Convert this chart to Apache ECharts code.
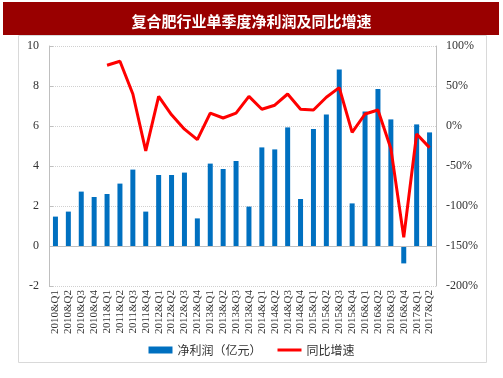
<!DOCTYPE html>
<html>
<head>
<meta charset="utf-8">
<script src="https://cdn.jsdelivr.net/npm/echarts@6/dist/echarts.min.js"></script>
<style>
  html, body { margin: 0; padding: 0; background: #fff; }
  #chart { width: 503px; height: 378px; }
</style>
</head>
<body>
<div id="chart"></div>
<script>
// quarters 2010Q1 - 2017Q2
const quarters = [
  '2010&Q1', '2010&Q2', '2010&Q3', '2010&Q4',
  '2011&Q1', '2011&Q2', '2011&Q3', '2011&Q4',
  '2012&Q1', '2012&Q2', '2012&Q3', '2012&Q4',
  '2013&Q1', '2013&Q2', '2013&Q3', '2013&Q4',
  '2014&Q1', '2014&Q2', '2014&Q3', '2014&Q4',
  '2015&Q1', '2015&Q2', '2015&Q3', '2015&Q4',
  '2016&Q1', '2016&Q2', '2016&Q3', '2016&Q4',
  '2017&Q1', '2017&Q2'
];
// 净利润 (亿元)
const profit = [
  1.47, 1.72, 2.72, 2.45, 2.6, 3.12, 3.82, 1.72, 3.55, 3.55,
  3.67, 1.38, 4.12, 3.85, 4.25, 1.97, 4.93, 4.83, 5.93, 2.35,
  5.85, 6.58, 8.83, 2.13, 6.73, 7.85, 6.33, -0.87, 6.08, 5.68
];
// 同比增速 (%)
const growth = [
  null, null, null, null, 76, 81, 40, -31, 37, 14,
  -4, -17, 16, 10, 16, 37, 21, 26, 40, 21,
  20, 36, 48, -8, 15, 20, -28, -139, -10, -27
];

const chart = echarts.init(document.getElementById('chart'));
const serif = '"Liberation Serif", "Times New Roman", serif';
const cjk = '"Noto Sans CJK SC", sans-serif';

chart.setOption({
  animation: false,
  title: {
    text: '复合肥行业单季度净利润及同比增速',
    left: 'center',
    top: 9,
    textStyle: { color: '#fff', fontSize: 15, fontWeight: 'bold', fontFamily: cjk }
  },
  graphic: [
    {
      type: 'rect',
      z: -1,
      shape: { x: 3, y: 2, width: 496, height: 33 },
      style: { fill: '#990000' }
    },
    {
      type: 'rect',
      z: -1,
      shape: { x: 18.5, y: 35.5, width: 468, height: 327 },
      style: { fill: 'none', stroke: '#d9d9d9', lineWidth: 1 }
    }
  ],
  legend: {
    bottom: 17,
    left: 'center',
    itemGap: 16,
    itemWidth: 24,
    itemHeight: 7,
    textStyle: { fontSize: 12, color: '#333', fontFamily: cjk },
    data: [
      { name: '净利润（亿元）', icon: 'rect' },
      { name: '同比增速', icon: 'path://M0,0 H24 V3 H0 Z' }
    ]
  },
  grid: { left: 49, right: 67, top: 46, bottom: 92 },
  xAxis: {
    type: 'category',
    data: quarters,
    axisLine: { show: false, onZero: false },
    axisTick: { show: false },
    axisLabel: {
      rotate: 90,
      interval: 0,
      margin: 4,
      fontSize: 11,
      color: '#333',
      fontFamily: serif
    }
  },
  yAxis: [
    {
      type: 'value',
      min: -2,
      max: 10,
      interval: 2,
      axisLine: { show: true, lineStyle: { color: '#bfbfbf' } },
      axisTick: { show: true, inside: true, length: 4, lineStyle: { color: '#bfbfbf' } },
      axisLabel: { fontSize: 12, color: '#333', fontFamily: serif, margin: 10 },
      splitLine: { lineStyle: { color: '#d0d0d0', type: 'dotted' } }
    },
    {
      type: 'value',
      min: -200,
      max: 100,
      interval: 50,
      axisLine: { show: true, lineStyle: { color: '#bfbfbf' } },
      axisTick: { show: false },
      axisLabel: { fontSize: 12, color: '#333', fontFamily: serif, margin: 10, formatter: '{value}%' },
      splitLine: { show: false }
    }
  ],
  series: [
    {
      name: '净利润（亿元）',
      type: 'bar',
      data: profit,
      barWidth: 5,
      itemStyle: { color: '#0070c0' },
      markLine: {
        silent: true,
        symbol: 'none',
        label: { show: false },
        lineStyle: { color: '#bfbfbf', type: 'solid', width: 1 },
        data: [{ yAxis: 0 }]
      }
    },
    {
      name: '同比增速',
      type: 'line',
      yAxisIndex: 1,
      data: growth,
      symbol: 'none',
      lineStyle: { color: '#ff0000', width: 3 },
      itemStyle: { color: '#ff0000' }
    }
  ]
});
</script>
</body>
</html>
